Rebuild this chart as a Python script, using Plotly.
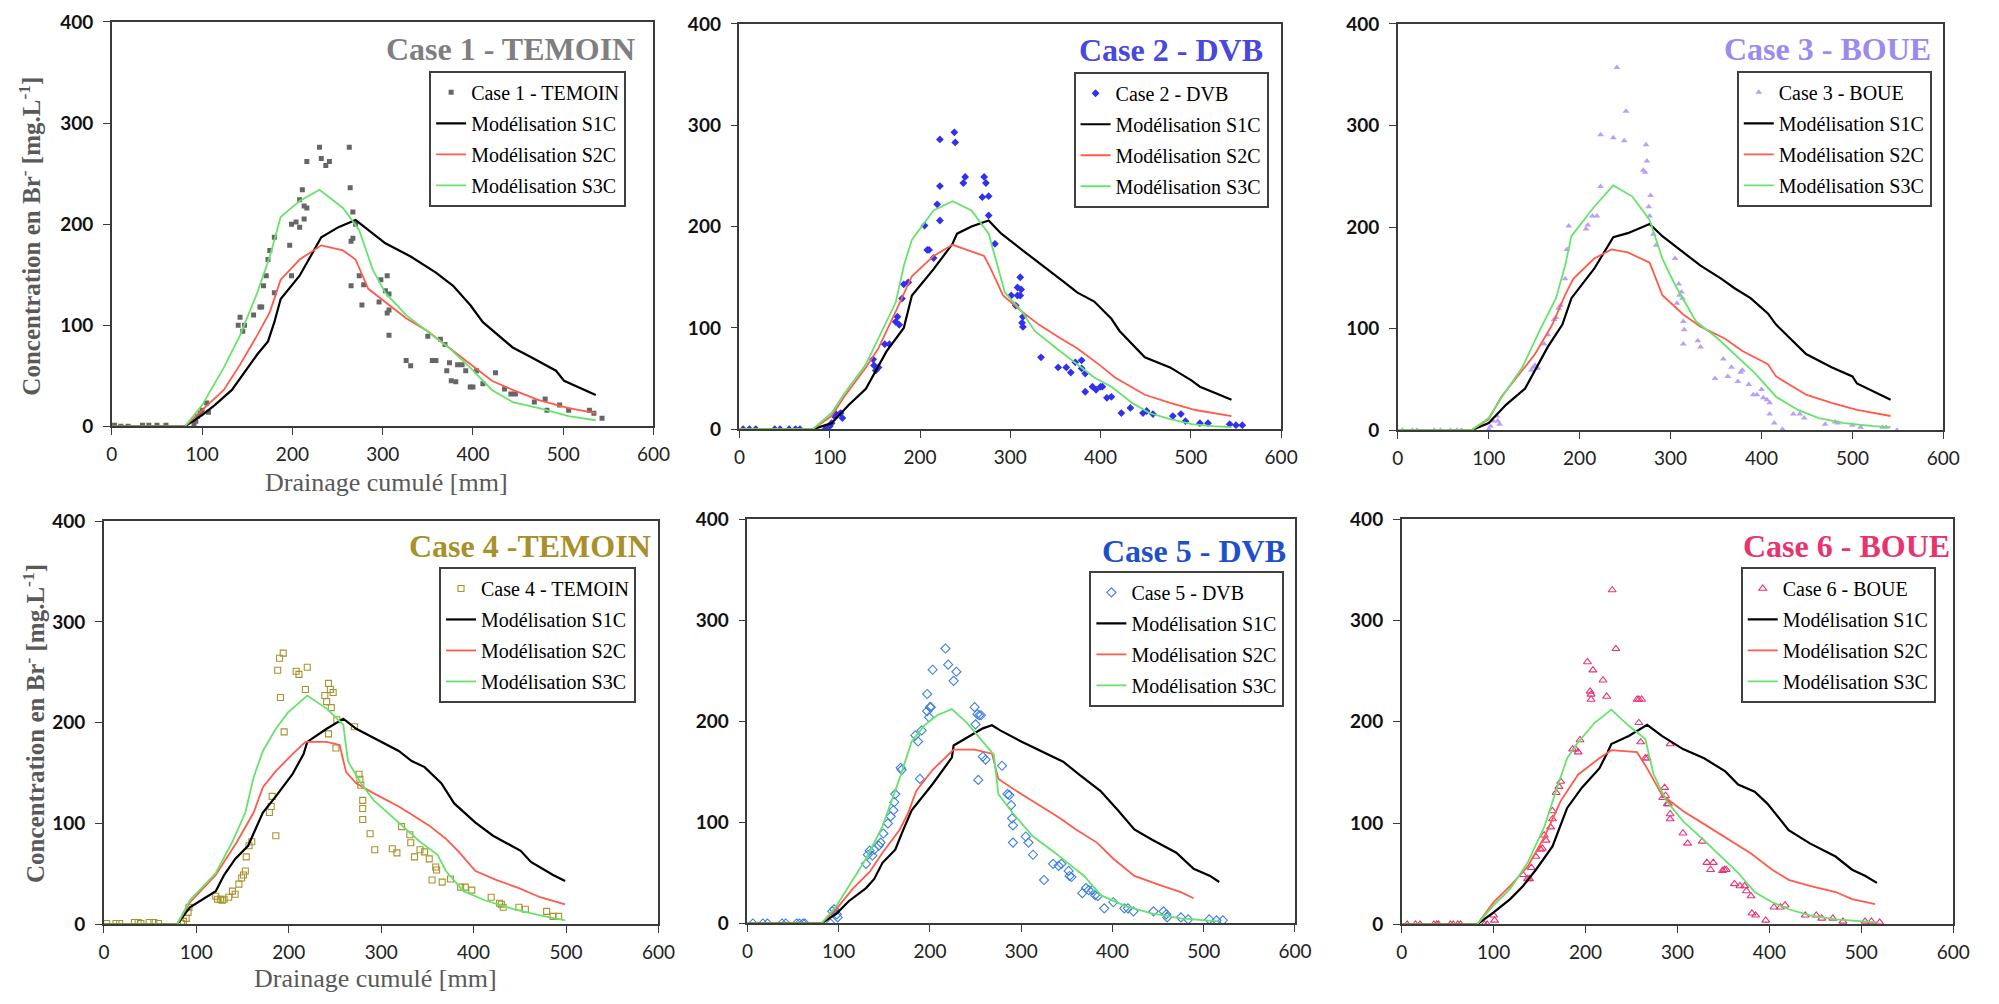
import plotly.graph_objects as go

# ---------------- DATA ----------------
# Case 1 - TEMOIN
c1_x = [3,10,18,34,41,50,60,91,93,95,
        98,100,105,107,140,142,145,147,157,164,
        166,168,171,173,175,180,180,197,199,199,
        204,208,208,211,213,213,216,216,230,232,
        237,241,263,264,265,267,267,265,270,274,
        277,279,296,298,303,305,305,307,307,307,
        326,331,350,355,359,364,369,371,374,376,
        381,383,388,392,397,400,404,411,425,435,
        442,447,468,480,482,496,506,529,534,543]
c1_y = [1,0,0,1,1,1,1,2,5,10,
        13,16,23,14,100,108,94,100,110,118,
        118,139,149,165,174,187,132,179,149,200,
        202,197,224,234,205,218,216,262,276,265,
        258,262,276,236,183,186,212,139,200,149,
        120,140,123,145,134,149,112,115,131,90,
        65,60,89,65,65,86,81,55,63,45,
        44,61,61,55,39,39,55,42,53,37,
        32,32,24,27,16,21,16,16,13,8]
c1_s1c_x = [0,81,100,114,133,142,161,173,180,187,208,232,251,270,284,303,331,359,378,397,411,444,463,492,501,536]
c1_s1c_y = [0,0,11,21,36,47,71,84,103,126,149,187,197,204,194,181,168,152,139,120,103,78,69,55,45,31]
c1_s2c_x = [0,81,100,124,142,161,175,187,208,232,256,270,284,303,326,350,373,397,421,444,473,506,536]
c1_s2c_y = [0,0,16,36,61,90,113,145,165,179,174,165,136,123,107,94,78,61,45,36,26,18,13]
c1_s3c_x = [0,81,100,124,142,161,175,187,208,230,256,274,289,303,326,350,373,397,421,444,473,506,536]
c1_s3c_y = [0,0,21,58,90,132,168,207,223,234,216,194,155,132,110,94,78,58,36,24,18,10,6]

# Case 2 - DVB
c2_x = [4,11,18,39,45,55,62,67,95,100,
        102,105,107,112,114,148,149,151,154,161,
        166,173,175,177,180,182,187,205,208,210,
        215,219,222,222,222,238,239,248,250,269,
        271,273,276,276,283,301,306,308,308,311,
        311,312,313,314,314,334,353,362,367,372,
        379,379,383,383,391,395,400,402,407,412,
        423,433,447,451,458,480,489,494,510,519,
        543,550,557]
c2_y = [0,0,0,0,0,0,0,0,0,3,
        6,13,15,16,11,69,63,58,61,84,
        84,106,111,103,129,143,145,201,177,177,
        169,222,240,206,286,293,283,243,249,229,
        249,243,230,211,183,132,122,132,140,132,
        150,138,105,101,111,71,61,61,56,66,
        68,60,55,37,42,39,42,42,31,32,
        16,21,16,18,15,13,15,8,6,6,
        5,4,4]
c2_s1c_x = [0,81,102,121,140,149,163,182,191,215,236,241,257,276,290,313,337,360,374,393,412,421,449,477,501,510,529,545]
c2_s1c_y = [0,0,6,24,40,55,77,100,132,158,183,193,200,206,193,177,161,145,135,126,109,97,71,61,48,42,35,29]
c2_s2c_x = [0,81,102,116,140,154,173,191,215,236,252,271,278,292,313,332,355,374,398,416,449,477,505,545]
c2_s2c_y = [0,0,13,32,61,80,116,151,171,182,177,171,159,132,116,103,90,80,64,51,34,26,19,13]
c2_s3c_x = [0,81,102,116,140,158,173,182,191,215,236,257,276,285,294,313,327,351,374,393,412,435,454,477,501,524,545]
c2_s3c_y = [0,0,16,35,64,97,125,161,187,216,225,216,193,164,135,116,97,80,64,51,42,26,16,10,5,3,2]

# Case 3 - BOUE
c3_x = [5,16,21,40,47,58,65,70,100,102,
        105,109,110,112,147,149,151,154,161,165,
        172,174,177,179,184,186,188,207,209,214,
        219,223,223,237,241,249,251,270,272,273,
        274,276,277,278,281,284,305,307,309,310,
        312,313,314,315,314,330,333,349,358,363,
        367,374,377,379,386,391,395,400,402,406,
        409,409,414,423,435,442,447,470,481,484,
        500,509,533,537,549]
c3_y = [0,0,0,0,0,0,0,0,1,4,
        9,14,9,6,59,62,64,61,85,94,
        109,111,120,123,149,178,201,198,202,211,
        211,240,291,288,357,285,314,256,254,281,
        265,220,211,231,193,182,169,125,144,133,
        136,130,107,99,85,88,82,51,70,53,
        62,48,57,59,45,35,35,40,32,30,
        27,16,7,1,16,16,12,6,8,7,
        5,3,3,3,0]
c3_s1c_x = [0,81,100,119,140,151,165,181,191,216,237,253,277,291,314,333,356,370,388,407,416,449,477,500,505,523,542]
c3_s1c_y = [0,0,7,25,41,59,82,104,130,159,190,194,203,191,175,162,149,140,130,115,104,75,62,53,46,38,30]
c3_s2c_x = [0,81,100,114,137,151,170,184,193,216,235,253,277,291,314,333,360,379,407,416,449,477,505,542]
c3_s2c_y = [0,0,11,33,59,75,104,133,149,169,178,175,165,133,114,102,90,78,65,53,35,27,20,14]
c3_s3c_x = [0,81,100,114,137,156,174,184,191,216,237,258,277,291,305,328,351,370,393,416,440,463,491,523,542]
c3_s3c_y = [0,0,12,32,62,98,130,162,191,220,241,230,207,169,143,107,91,75,56,33,20,12,7,4,3]

# Case 4 - TEMOIN
c4_x = [3,13,17,33,37,40,49,54,59,84,
        86,89,91,92,121,123,126,128,130,135,
        139,142,146,149,151,153,154,157,160,179,
        181,182,186,188,190,191,194,195,208,211,
        218,220,239,241,243,243,245,246,248,251,
        252,271,276,277,278,280,280,280,288,293,
        312,317,322,331,332,336,342,347,352,355,
        359,360,366,375,386,391,398,419,428,430,
        432,449,456,479,486,492]
c4_y = [1,1,1,2,2,1,2,2,1,1,
        3,6,12,17,28,25,25,24,25,27,
        33,30,40,46,49,53,67,78,82,111,
        117,127,88,252,264,225,269,191,251,248,
        233,255,227,221,239,189,233,215,230,175,
        203,196,149,144,138,123,115,104,90,74,
        75,71,97,89,81,67,74,72,65,44,
        57,54,42,45,37,37,34,27,21,20,
        17,17,15,13,8,8]
c4_s1c_x = [0,79,93,107,121,130,142,156,162,172,186,204,216,220,241,259,273,292,319,333,347,365,379,402,421,451,462,486,499]
c4_s1c_y = [0,0,17,25,33,49,65,78,90,111,127,149,169,181,194,204,194,185,172,162,156,140,120,101,88,73,62,49,43]
c4_s2c_x = [0,79,93,121,144,162,172,186,204,218,241,255,262,273,292,319,333,352,370,384,402,425,449,472,499]
c4_s2c_y = [0,0,22,49,82,111,136,152,169,181,181,178,151,140,130,117,109,98,85,72,53,44,36,27,20]
c4_s3c_x = [0,79,93,121,139,153,162,172,186,199,220,241,259,264,278,292,319,342,361,370,389,412,444,472,499]
c4_s3c_y = [0,0,24,51,82,111,146,172,194,210,227,214,198,162,140,123,101,82,69,53,33,24,15,9,4]

# Case 5 - DVB
c5_x = [6,17,22,38,42,54,57,61,63,91,
        93,95,98,99,130,132,134,137,139,144,
        146,149,154,157,160,161,162,168,169,184,
        187,189,191,197,197,199,200,201,203,217,
        220,226,229,249,250,252,253,254,256,258,
        261,279,285,287,289,290,291,291,305,308,
        313,325,335,341,344,352,353,355,367,371,
        374,378,381,384,391,401,413,417,423,445,
        456,459,460,475,483,506,514,521]
c5_y = [0,0,0,0,0,0,0,0,0,0,
        12,14,9,6,59,68,72,67,73,77,
        80,89,99,106,112,120,128,154,152,186,
        180,143,191,227,210,204,214,214,251,272,
        256,240,249,214,197,207,142,206,206,165,
        162,156,128,127,117,104,97,80,86,80,
        68,43,59,57,59,52,47,46,30,35,
        33,33,28,27,15,21,15,15,12,12,
        12,9,6,6,4,4,3,3]
c5_s1c_x = [0,81,98,111,130,139,148,162,171,180,203,224,226,245,258,268,277,300,323,346,364,387,406,424,443,470,489,507,517]
c5_s1c_y = [0,0,10,22,35,44,60,73,93,112,138,164,176,186,193,196,191,180,170,160,147,131,112,93,83,70,54,47,41]
c5_s2c_x = [0,81,98,116,134,148,167,176,185,203,226,249,268,275,300,323,341,360,383,401,424,452,475,489]
c5_s2c_y = [0,0,15,35,51,70,93,109,131,152,172,172,168,143,128,115,105,93,80,64,47,38,31,25]
c5_s3c_x = [0,81,98,116,130,148,167,180,194,208,224,240,258,270,275,291,313,337,355,369,387,415,443,475,516]
c5_s3c_y = [0,0,18,44,64,96,144,180,196,206,212,199,180,167,128,109,86,70,57,47,28,17,10,5,2]

# Case 6 - BOUE
c6_x = [6,15,20,35,38,40,53,56,61,64,
        90,93,100,101,132,137,139,141,146,151,
        153,155,157,162,164,164,168,171,173,186,
        189,192,194,202,205,206,206,208,219,223,
        229,233,256,258,258,260,261,265,267,284,
        286,287,289,290,292,292,292,306,311,327,
        332,336,339,349,351,353,362,368,373,375,
        380,381,385,396,405,412,417,439,451,457,
        469,480,504,511,520]
c6_y = [0,0,0,0,0,0,0,0,0,0,
        0,0,9,4,49,45,45,56,67,74,
        75,88,83,96,104,112,130,136,141,173,
        173,170,182,259,230,227,222,251,241,225,
        330,272,222,222,199,180,222,164,164,125,
        135,127,119,119,109,104,178,90,80,82,
        61,54,61,53,54,54,40,38,38,33,
        28,11,9,4,17,17,19,9,9,6,
        6,3,3,3,2]
c6_s1c_x = [0,82,100,118,132,146,164,171,180,196,215,224,228,247,267,283,306,329,352,366,384,398,421,444,472,490,504,517]
c6_s1c_y = [0,0,12,25,38,54,77,93,115,135,154,170,178,186,197,186,173,164,151,138,131,119,93,80,67,54,48,41]
c6_s2c_x = [0,82,100,118,137,155,173,192,215,228,256,267,283,306,329,352,380,403,421,444,472,490,515]
c6_s2c_y = [0,0,22,38,57,86,122,148,164,172,170,154,128,112,99,86,70,54,44,38,32,25,20]
c6_s3c_x = [0,82,100,118,137,155,169,180,192,210,228,247,265,274,288,306,329,348,366,384,403,421,444,472,499,517]
c6_s3c_y = [0,0,19,35,61,96,135,164,180,199,212,196,183,148,122,102,83,67,51,32,22,15,9,5,3,2]

case_names = ["Case 1 - TEMOIN", "Case 2 - DVB", "Case 3 - BOUE",
              "Case 4 - TEMOIN", "Case 5 - DVB", "Case 6 - BOUE"]
panel_titles = ["Case 1 - TEMOIN", "Case 2 - DVB", "Case 3 - BOUE",
                "Case 4 -TEMOIN", "Case 5 - DVB", "Case 6 - BOUE"]
model_names = ["Modélisation S1C", "Modélisation S2C", "Modélisation S3C"]
x_ticks = [0, 100, 200, 300, 400, 500, 600]
y_ticks = [0, 100, 200, 300, 400]

# ---------------- STYLE / LAYOUT ----------------
# The page body has an 8px margin: the figure is drawn 16px smaller and
# every target pixel position is shifted by that margin.
OFF = 8
FW, FH = 1999 - 2 * OFF, 1004 - 2 * OFF
SERIF = "Liberation Serif, Times New Roman, serif"
SANS = "Lato, Carlito, Calibri, sans-serif"


def px(p):
    return min(1.0, max(0.0, (p - OFF) / FW))


def py(p):
    return min(1.0, max(0.0, 1 - (p - OFF) / FH))


data = [
    (c1_x, c1_y, [(c1_s1c_x, c1_s1c_y), (c1_s2c_x, c1_s2c_y), (c1_s3c_x, c1_s3c_y)]),
    (c2_x, c2_y, [(c2_s1c_x, c2_s1c_y), (c2_s2c_x, c2_s2c_y), (c2_s3c_x, c2_s3c_y)]),
    (c3_x, c3_y, [(c3_s1c_x, c3_s1c_y), (c3_s2c_x, c3_s2c_y), (c3_s3c_x, c3_s3c_y)]),
    (c4_x, c4_y, [(c4_s1c_x, c4_s1c_y), (c4_s2c_x, c4_s2c_y), (c4_s3c_x, c4_s3c_y)]),
    (c5_x, c5_y, [(c5_s1c_x, c5_s1c_y), (c5_s2c_x, c5_s2c_y), (c5_s3c_x, c5_s3c_y)]),
    (c6_x, c6_y, [(c6_s1c_x, c6_s1c_y), (c6_s2c_x, c6_s2c_y), (c6_s3c_x, c6_s3c_y)]),
]

# plot boxes in screen pixels: (left, right, top, bottom)
boxes = [(107, 655, 10, 424), (742, 1290, 12, 427), (1408, 1960, 12, 428),
         (99, 660, 521, 934), (750, 1304, 519, 933), (1412, 1970, 519, 934)]
legend_pos = [(428, 60), (1080, 61), (1751, 60), (438, 568), (1096, 572), (1755, 568)]
title_pos = [(638, 38), (1274, 39), (1950, 38), (654, 547), (1297, 552), (1969, 547)]
title_colors = ["#7f7f7f", "#4848de", "#9d8aef", "#a8902a", "#1f50cc", "#e8336f"]
markers = [
    dict(symbol="square", size=5, color="#666666"),
    dict(symbol="diamond", size=6, color="#3030ee"),
    dict(symbol="triangle-up", size=6, color="#b9a0f5"),
    dict(symbol="square-open", size=6, color="#a8922c", line=dict(width=1.1)),
    dict(symbol="diamond-open", size=7, color="#3d80e0", line=dict(width=1.1)),
    dict(symbol="triangle-up-open", size=7, color="#e8337a", line=dict(width=1.1)),
]
line_colors = ["#000000", "#ff5a4a", "#66e36a"]

fig = go.Figure()
layout = dict(
    width=FW, height=FH, margin=dict(l=0, r=0, t=0, b=0),
    paper_bgcolor="white", plot_bgcolor="white", showlegend=True,
    annotations=[],
)

for i, (mx, my, lines) in enumerate(data, start=1):
    sfx = "" if i == 1 else str(i)
    leg = "legend" if i == 1 else f"legend{i}"
    fig.add_trace(go.Scatter(
        x=mx, y=my, mode="markers", name=case_names[i - 1],
        marker=markers[i - 1], xaxis="x" + sfx, yaxis="y" + sfx,
        legend=leg, legendgroup=f"p{i}m", legendrank=1))
    for k, ((lx, ly), lname, lc) in enumerate(zip(lines, model_names, line_colors)):
        fig.add_trace(go.Scatter(
            x=lx, y=ly, mode="lines", name=lname,
            line=dict(color=lc, width=2.2 if k == 0 else 1.8),
            xaxis="x" + sfx, yaxis="y" + sfx,
            legend=leg, legendgroup=f"p{i}l{k}", legendrank=2 + k))

    l, r, t, b = boxes[i - 1]
    axis_common = dict(
        showline=True, mirror=True, linecolor="#3a3a3a", linewidth=1.5,
        showgrid=False, zeroline=False, ticks="outside", ticklen=7,
        tickcolor="#3a3a3a", tickwidth=1.2,
    )
    layout["xaxis" + sfx] = dict(
        axis_common, domain=[px(l), px(r)], anchor="y" + sfx,
        range=[0, 600], tickvals=x_ticks, ticklabelstandoff=3,
        tickfont=dict(family=SANS, size=19, color="#222222"))
    layout["yaxis" + sfx] = dict(
        axis_common, domain=[py(b), py(t)], anchor="x" + sfx,
        range=[0, 400], tickvals=y_ticks, ticklabelstandoff=6,
        tickfont=dict(family=SANS, size=19, color="#111111", weight="bold"))

    lx0, ly0 = legend_pos[i - 1]
    layout[leg] = dict(
        x=px(lx0), y=py(ly0), xanchor="left", yanchor="top",
        xref="paper", yref="paper",
        bgcolor="white", bordercolor="#404040", borderwidth=2,
        font=dict(family=SERIF, size=20, color="#000000"),
        tracegroupgap=2, itemwidth=30,
    )

    tx, ty = title_pos[i - 1]
    layout["annotations"].append(dict(
        text=panel_titles[i - 1], x=px(tx), y=py(ty), xref="paper", yref="paper",
        xanchor="right", yanchor="middle", showarrow=False,
        font=dict(family=SERIF, size=32, color=title_colors[i - 1], weight="bold")))

# axis titles (left column only)
ytitle = "Concentration en Br<sup>-</sup> [mg.L<sup>-1</sup>]"
xtitle = "Drainage cumulé [mm]"
for (yx, yy) in [(24, 229), (28, 728)]:
    layout["annotations"].append(dict(
        text=ytitle, x=px(yx), y=py(yy), xref="paper", yref="paper",
        xanchor="center", yanchor="middle", textangle=-90, showarrow=False,
        font=dict(family=SERIF, size=25, color="#595959", weight="bold")))
for (xx, xy) in [(385, 482), (374, 989)]:
    layout["annotations"].append(dict(
        text=xtitle, x=px(xx), y=py(xy), xref="paper", yref="paper",
        xanchor="center", yanchor="middle", showarrow=False,
        font=dict(family=SERIF, size=26, color="#595959")))

fig.update_layout(**layout)
fig.write_html("out.html")
